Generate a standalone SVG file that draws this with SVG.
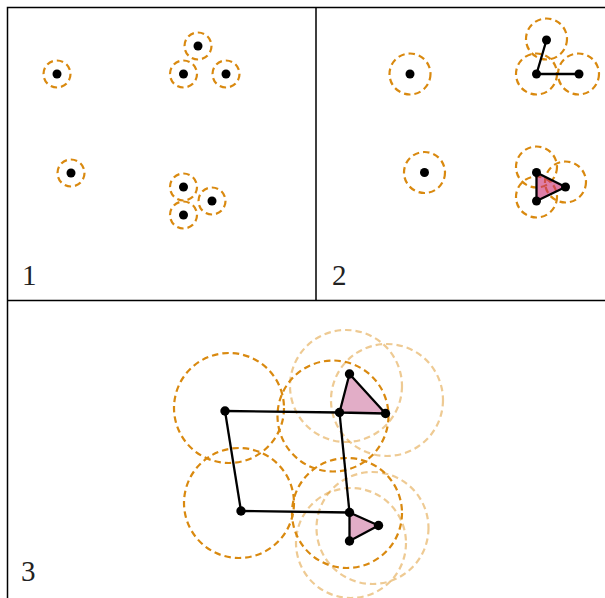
<svg xmlns="http://www.w3.org/2000/svg" width="605" height="598" viewBox="0 0 605 598">
<style>
.frame{fill:none;stroke:#000;stroke-width:1.5}
.c{fill:none;stroke:#d9890f;stroke-width:2.2;stroke-dasharray:6.5 4}
.cl{fill:none;stroke:#d9890f;stroke-width:2.2;stroke-dasharray:6.5 4;opacity:0.45}
.p{fill:#000}
.e{stroke:#000;stroke-width:2.3;fill:none}
.t2{fill:#c8286e;fill-opacity:0.6;stroke:#000;stroke-width:2.3;stroke-linejoin:round}
.t3{fill:#e2adc7;stroke:#000;stroke-width:2.3;stroke-linejoin:round}
.lbl{font-family:"Liberation Serif","DejaVu Serif",serif;font-size:29px;fill:#222}
</style>
<rect width="605" height="598" fill="#fff"/>
<g id="frame">
<path class="frame" d="M605 7.5H7.5V598M316 7.5V300.5M7.5 300.5H605"/>
</g>
<text class="lbl" x="22" y="285">1</text>
<text class="lbl" x="332" y="285">2</text>
<text class="lbl" x="21" y="581">3</text>

<!-- Panel 1 -->
<g id="p1-n1"><circle class="c" cx="57" cy="74" r="13.5"/><circle class="p" cx="57" cy="74" r="4.5"/></g>
<g id="p1-n2"><circle class="c" cx="198" cy="46" r="13.5"/><circle class="p" cx="198" cy="46" r="4.5"/></g>
<g id="p1-n3"><circle class="c" cx="183.5" cy="74" r="13.5"/><circle class="p" cx="183.5" cy="74" r="4.5"/></g>
<g id="p1-n4"><circle class="c" cx="226" cy="74" r="13.5"/><circle class="p" cx="226" cy="74" r="4.5"/></g>
<g id="p1-n5"><circle class="c" cx="71" cy="173" r="13.5"/><circle class="p" cx="71" cy="173" r="4.5"/></g>
<g id="p1-n6"><circle class="c" cx="183.5" cy="187" r="13.5"/><circle class="p" cx="183.5" cy="187" r="4.5"/></g>
<g id="p1-n7"><circle class="c" cx="212" cy="201" r="13.5"/><circle class="p" cx="212" cy="201" r="4.5"/></g>
<g id="p1-n8"><circle class="c" cx="183.5" cy="215" r="13.5"/><circle class="p" cx="183.5" cy="215" r="4.5"/></g>

<!-- Panel 2 circles -->
<g id="p2-circles">
<circle class="c" cx="410" cy="74" r="20.5"/>
<circle class="c" cx="546.5" cy="39" r="20.5"/>
<circle class="c" cx="536.5" cy="74" r="20.5"/>
<circle class="c" cx="578.5" cy="74" r="20.5"/>
<circle class="c" cx="424.5" cy="172.5" r="20.5"/>
<circle class="c" cx="536.5" cy="167" r="20.5"/>
<circle class="c" cx="565.5" cy="182" r="20.5"/>
<circle class="c" cx="536.5" cy="197" r="20.5"/>
</g>

<!-- Panel 3 circles -->
<g id="p3-circles">
<circle class="cl" cx="346" cy="386" r="56"/>
<circle class="cl" cx="387" cy="400" r="56"/>
<circle class="cl" cx="372.5" cy="528" r="56"/>
<circle class="cl" cx="351" cy="543" r="55"/>
<circle class="c" cx="229" cy="408" r="55"/>
<circle class="c" cx="239" cy="503" r="55"/>
<circle class="c" cx="333" cy="416" r="55.5"/>
<circle class="c" cx="347" cy="513" r="55"/>
</g>

<g id="connectors">
<line class="e" x1="536.5" y1="74" x2="546.5" y2="40"/>
<line class="e" x1="536.5" y1="74" x2="579" y2="74"/>
<polygon class="t2" points="536.5,172.5 565.5,187 536.5,201"/>
<line class="e" x1="225" y1="411" x2="339.5" y2="412.5"/>
<line class="e" x1="225" y1="411" x2="241" y2="511"/>
<line class="e" x1="241" y1="511" x2="349.5" y2="512.5"/>
<line class="e" x1="339.5" y1="412.5" x2="349.5" y2="512.5"/>
<polygon class="t3" points="339.5,412.5 349.5,374 385.5,413.5"/>
<polygon class="t3" points="349.5,512.5 378.5,525.5 349.5,541"/>
</g>

<!-- Panel 2 points -->
<g id="p2-n1"><circle class="p" cx="410" cy="74" r="4.5"/></g>
<g id="p2-n2"><circle class="p" cx="546.5" cy="40" r="4.5"/></g>
<g id="p2-n3"><circle class="p" cx="536.5" cy="74" r="4.5"/></g>
<g id="p2-n4"><circle class="p" cx="579" cy="74" r="4.5"/></g>
<g id="p2-n5"><circle class="p" cx="424.5" cy="172.5" r="4.5"/></g>
<g id="p2-n6"><circle class="p" cx="536.5" cy="172.5" r="4.5"/></g>
<g id="p2-n7"><circle class="p" cx="565.5" cy="187" r="4.5"/></g>
<g id="p2-n8"><circle class="p" cx="536.5" cy="201" r="4.5"/></g>

<!-- Panel 3 points -->
<g id="p3-A"><circle class="p" cx="225" cy="411" r="4.7"/></g>
<g id="p3-B"><circle class="p" cx="339.5" cy="412.5" r="4.7"/></g>
<g id="p3-C"><circle class="p" cx="349.5" cy="374" r="4.7"/></g>
<g id="p3-D"><circle class="p" cx="385.5" cy="413.5" r="4.7"/></g>
<g id="p3-E"><circle class="p" cx="241" cy="511" r="4.7"/></g>
<g id="p3-F"><circle class="p" cx="349.5" cy="512.5" r="4.7"/></g>
<g id="p3-G"><circle class="p" cx="378.5" cy="525.5" r="4.7"/></g>
<g id="p3-H"><circle class="p" cx="349.5" cy="541" r="4.7"/></g>
</svg>
